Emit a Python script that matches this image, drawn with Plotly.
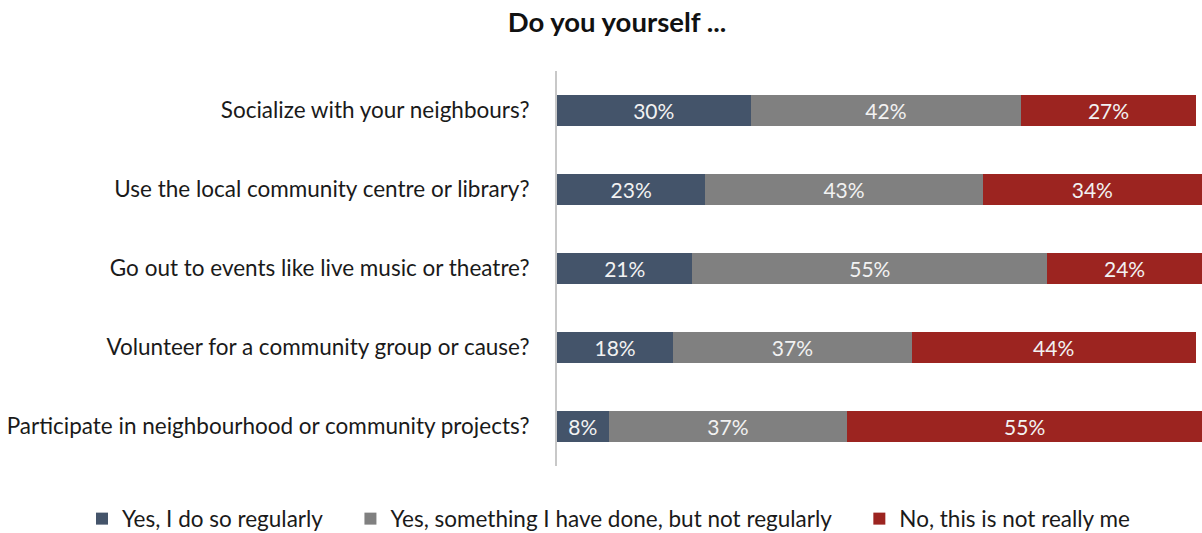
import plotly.graph_objects as go

categories = [
    "Socialize with your neighbours?",
    "Use the local community centre or library?",
    "Go out to events like live music or theatre?",
    "Volunteer for a community group or cause?",
    "Participate in neighbourhood or community projects?",
]
regularly = [30, 23, 21, 18, 8]
not_regularly = [42, 43, 55, 37, 37]
not_me = [27, 34, 24, 44, 55]

PAD = "\u00a0" * 4
series = [
    ("Yes, I do so regularly" + PAD, regularly, "#44546A"),
    ("Yes, something I have done, but not regularly" + PAD, not_regularly, "#808080"),
    ("No, this is not really me", not_me, "#9C2420"),
]

FONT = "Lato, Open Sans, sans-serif"

fig = go.Figure()
for name, vals, color in series:
    fig.add_trace(go.Bar(
        y=categories, x=vals, name=name, orientation="h",
        marker=dict(color=color, line=dict(width=0)),
        text=[f"{v}%" for v in vals], textposition="inside",
        insidetextanchor="middle",
        textfont=dict(color="#F2F2F2", size=21, family=FONT),
        hoverinfo="skip",
    ))

W, H = 1202, 533
fig.update_layout(
    barmode="stack",
    bargap=0.6,
    width=W, height=H,
    margin=dict(l=557, r=0, t=71, b=67, autoexpand=False),
    paper_bgcolor="white", plot_bgcolor="white",
    font=dict(family=FONT, size=22.5, color="#1a1a1a"),
    title=dict(text="<b>Do you yourself ...</b>", x=617 / W, xref="container",
               xanchor="center", y=1 - 22 / H, yref="container", yanchor="middle",
               font=dict(size=27.5, color="#111111", family=FONT)),
    xaxis=dict(range=[0, 100], visible=False, fixedrange=True),
    yaxis=dict(autorange="reversed", showline=True, linecolor="#C8C8C8", linewidth=2,
               ticks="", ticklabelstandoff=21, tickfont=dict(size=22.5, color="#1a1a1a"),
               showgrid=False, zeroline=False, fixedrange=True),
    legend=dict(orientation="h", xref="paper", yref="paper",
                x=(82 - 557) / 645, xanchor="left", y=-53 / 395, yanchor="middle",
                font=dict(size=22.5, color="#1a1a1a"), itemwidth=30,
                traceorder="normal"),
    uniformtext=dict(minsize=10, mode="show"),
)

fig.write_html(
    "out.html",
    config={"displayModeBar": False},
    post_script="document.body.style.margin='0';document.body.style.overflow='hidden';",
)
